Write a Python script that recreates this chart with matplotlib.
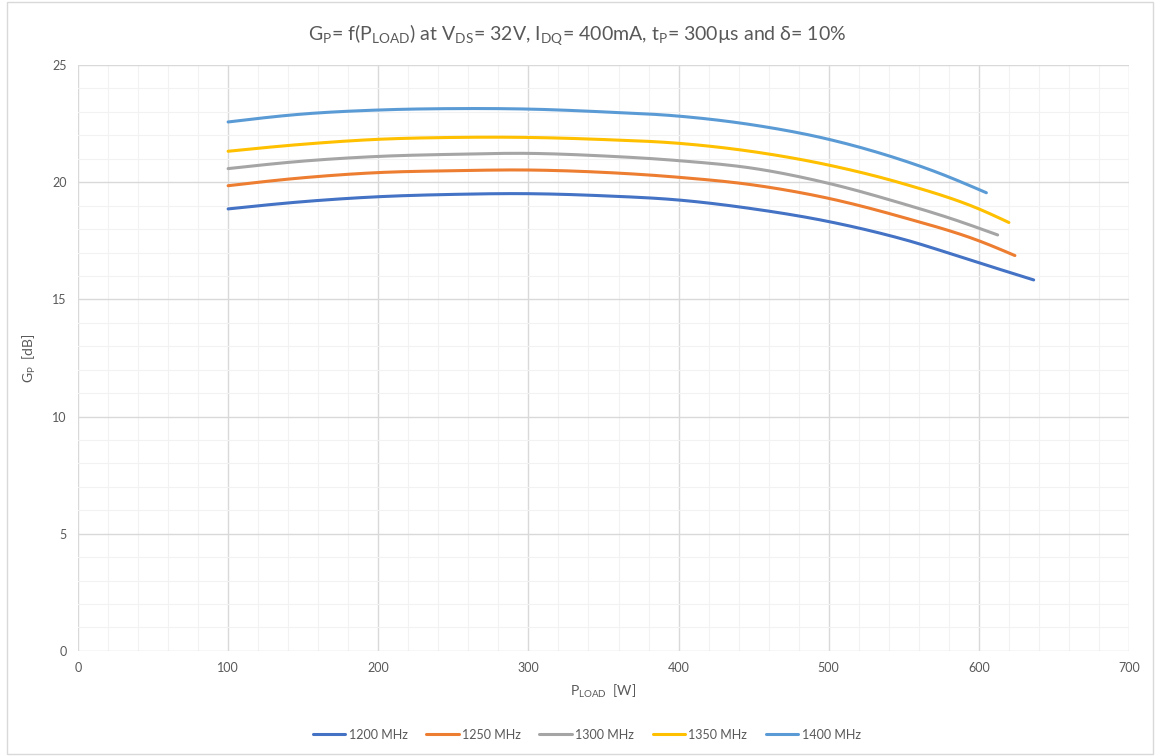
import numpy as np
import matplotlib
matplotlib.use('Agg')
import matplotlib.pyplot as plt
from matplotlib.ticker import MultipleLocator
from matplotlib.patches import Rectangle

plt.rcParams['font.family'] = ['Lato', 'DejaVu Sans']
plt.rcParams['mathtext.fontset'] = 'custom'
plt.rcParams['mathtext.rm'] = 'Lato'

#%% data
g_1200 = [18.86, 19.17, 19.38, 19.48, 19.51, 19.42, 19.24, 18.86, 18.32, 17.56, 16.56, 15.83]
x_1200 = [100, 150, 200, 250, 300, 350, 400, 450, 500, 550, 600, 636.5]
g_1250 = [19.85, 20.19, 20.41, 20.49, 20.52, 20.42, 20.21, 19.88, 19.31, 18.49, 17.50, 16.87]
x_1250 = [100, 150, 200, 250, 300, 350, 400, 450, 500, 550, 600, 624]
g_1300 = [20.58, 20.90, 21.10, 21.19, 21.23, 21.12, 20.92, 20.59, 19.95, 19.07, 18.48, 17.75]
x_1300 = [100, 150, 200, 250, 300, 350, 400, 450, 500, 550, 580, 612.5]
g_1350 = [21.32, 21.62, 21.83, 21.91, 21.91, 21.82, 21.66, 21.30, 20.73, 19.93, 18.86, 18.28]
x_1350 = [100, 150, 200, 250, 300, 350, 400, 450, 500, 550, 600, 620]
g_1400 = [22.57, 22.91, 23.08, 23.14, 23.12, 23.00, 22.82, 22.44, 21.83, 20.92, 20.52, 19.55]
x_1400 = [100, 150, 200, 250, 300, 350, 400, 450, 500, 550, 568, 605]

labels = ['1200 MHz', '1250 MHz', '1300 MHz', '1350 MHz', '1400 MHz']
colors = ['#4472C4', '#ED7D31', '#A5A5A5', '#FFC000', '#5B9BD5']


# smooth line like excel (cubic hermite, non-uniform spacing)
def smooth(x, y, n=25):
    x = np.asarray(x, float)
    y = np.asarray(y, float)
    h = np.diff(x)
    d = np.diff(y) / h
    m = np.empty_like(y)
    m[1:-1] = (d[1:] * h[:-1] + d[:-1] * h[1:]) / (h[:-1] + h[1:])
    m[0] = d[0] + (d[0] - m[1]) * 0.5
    m[-1] = d[-1] + (d[-1] - m[-2]) * 0.5
    xs, ys = [], []
    t = np.linspace(0, 1, n, endpoint=False)
    for i in range(len(x) - 1):
        h00 = 2*t**3 - 3*t**2 + 1
        h10 = t**3 - 2*t**2 + t
        h01 = -2*t**3 + 3*t**2
        h11 = t**3 - t**2
        xs.extend(x[i] + t * h[i])
        ys.extend(h00*y[i] + h10*h[i]*m[i] + h01*y[i+1] + h11*h[i]*m[i+1])
    xs.append(x[-1])
    ys.append(y[-1])
    return xs, ys


#%% plot
fig = plt.figure(figsize=(11.55, 7.56), dpi=100)
ax = fig.add_axes([0.0675, 0.139, 0.91, 0.775])

series = [(x_1200, g_1200), (x_1250, g_1250), (x_1300, g_1300),
          (x_1350, g_1350), (x_1400, g_1400)]
for (xx, yy), lab, c in zip(series, labels, colors):
    sx, sy = smooth(xx, yy)
    ax.plot(sx, sy, color=c, lw=2.2, label=lab, solid_capstyle='round')

ax.set_xlim(0, 700)
ax.set_ylim(0, 25)
ax.xaxis.set_major_locator(MultipleLocator(100))
ax.xaxis.set_minor_locator(MultipleLocator(20))
ax.yaxis.set_major_locator(MultipleLocator(5))
ax.yaxis.set_minor_locator(MultipleLocator(1))
ax.grid(which='major', color='#D9D9D9', lw=1)
ax.grid(which='minor', color='#F2F2F2', lw=0.8)
ax.set_axisbelow(True)
for s in ax.spines.values():
    s.set_visible(False)
ax.tick_params(which='both', length=0, labelsize=9, colors='#595959', pad=8)

ax.set_xlabel(r'P$_\mathregular{LOAD}$  [W]', fontsize=10, color='#595959', labelpad=6)
ax.set_ylabel(r'G$_\mathregular{P}$  [dB]', fontsize=10, color='#595959', labelpad=10)
fig.text(0.5, 0.953,
         r'G$_\mathregular{P}$= f(P$_\mathregular{LOAD}$) at V$_\mathregular{DS}$= 32V, '
         r'I$_\mathregular{DQ}$= 400mA, t$_\mathregular{P}$= 300µs and δ= 10%',
         ha='center', va='center', fontsize=14, color='#595959')

fig.legend(loc='center', bbox_to_anchor=(0.508, 0.028), ncol=5, frameon=False,
           fontsize=9, handlelength=2.6, handletextpad=0.25, columnspacing=1.5,
           labelcolor='#595959')

fig.patches.append(Rectangle((0.006, 0.003), 0.992, 0.995, transform=fig.transFigure,
                             fill=False, edgecolor='#D9D9D9', lw=1))

fig.savefig('out.png', dpi=100)
